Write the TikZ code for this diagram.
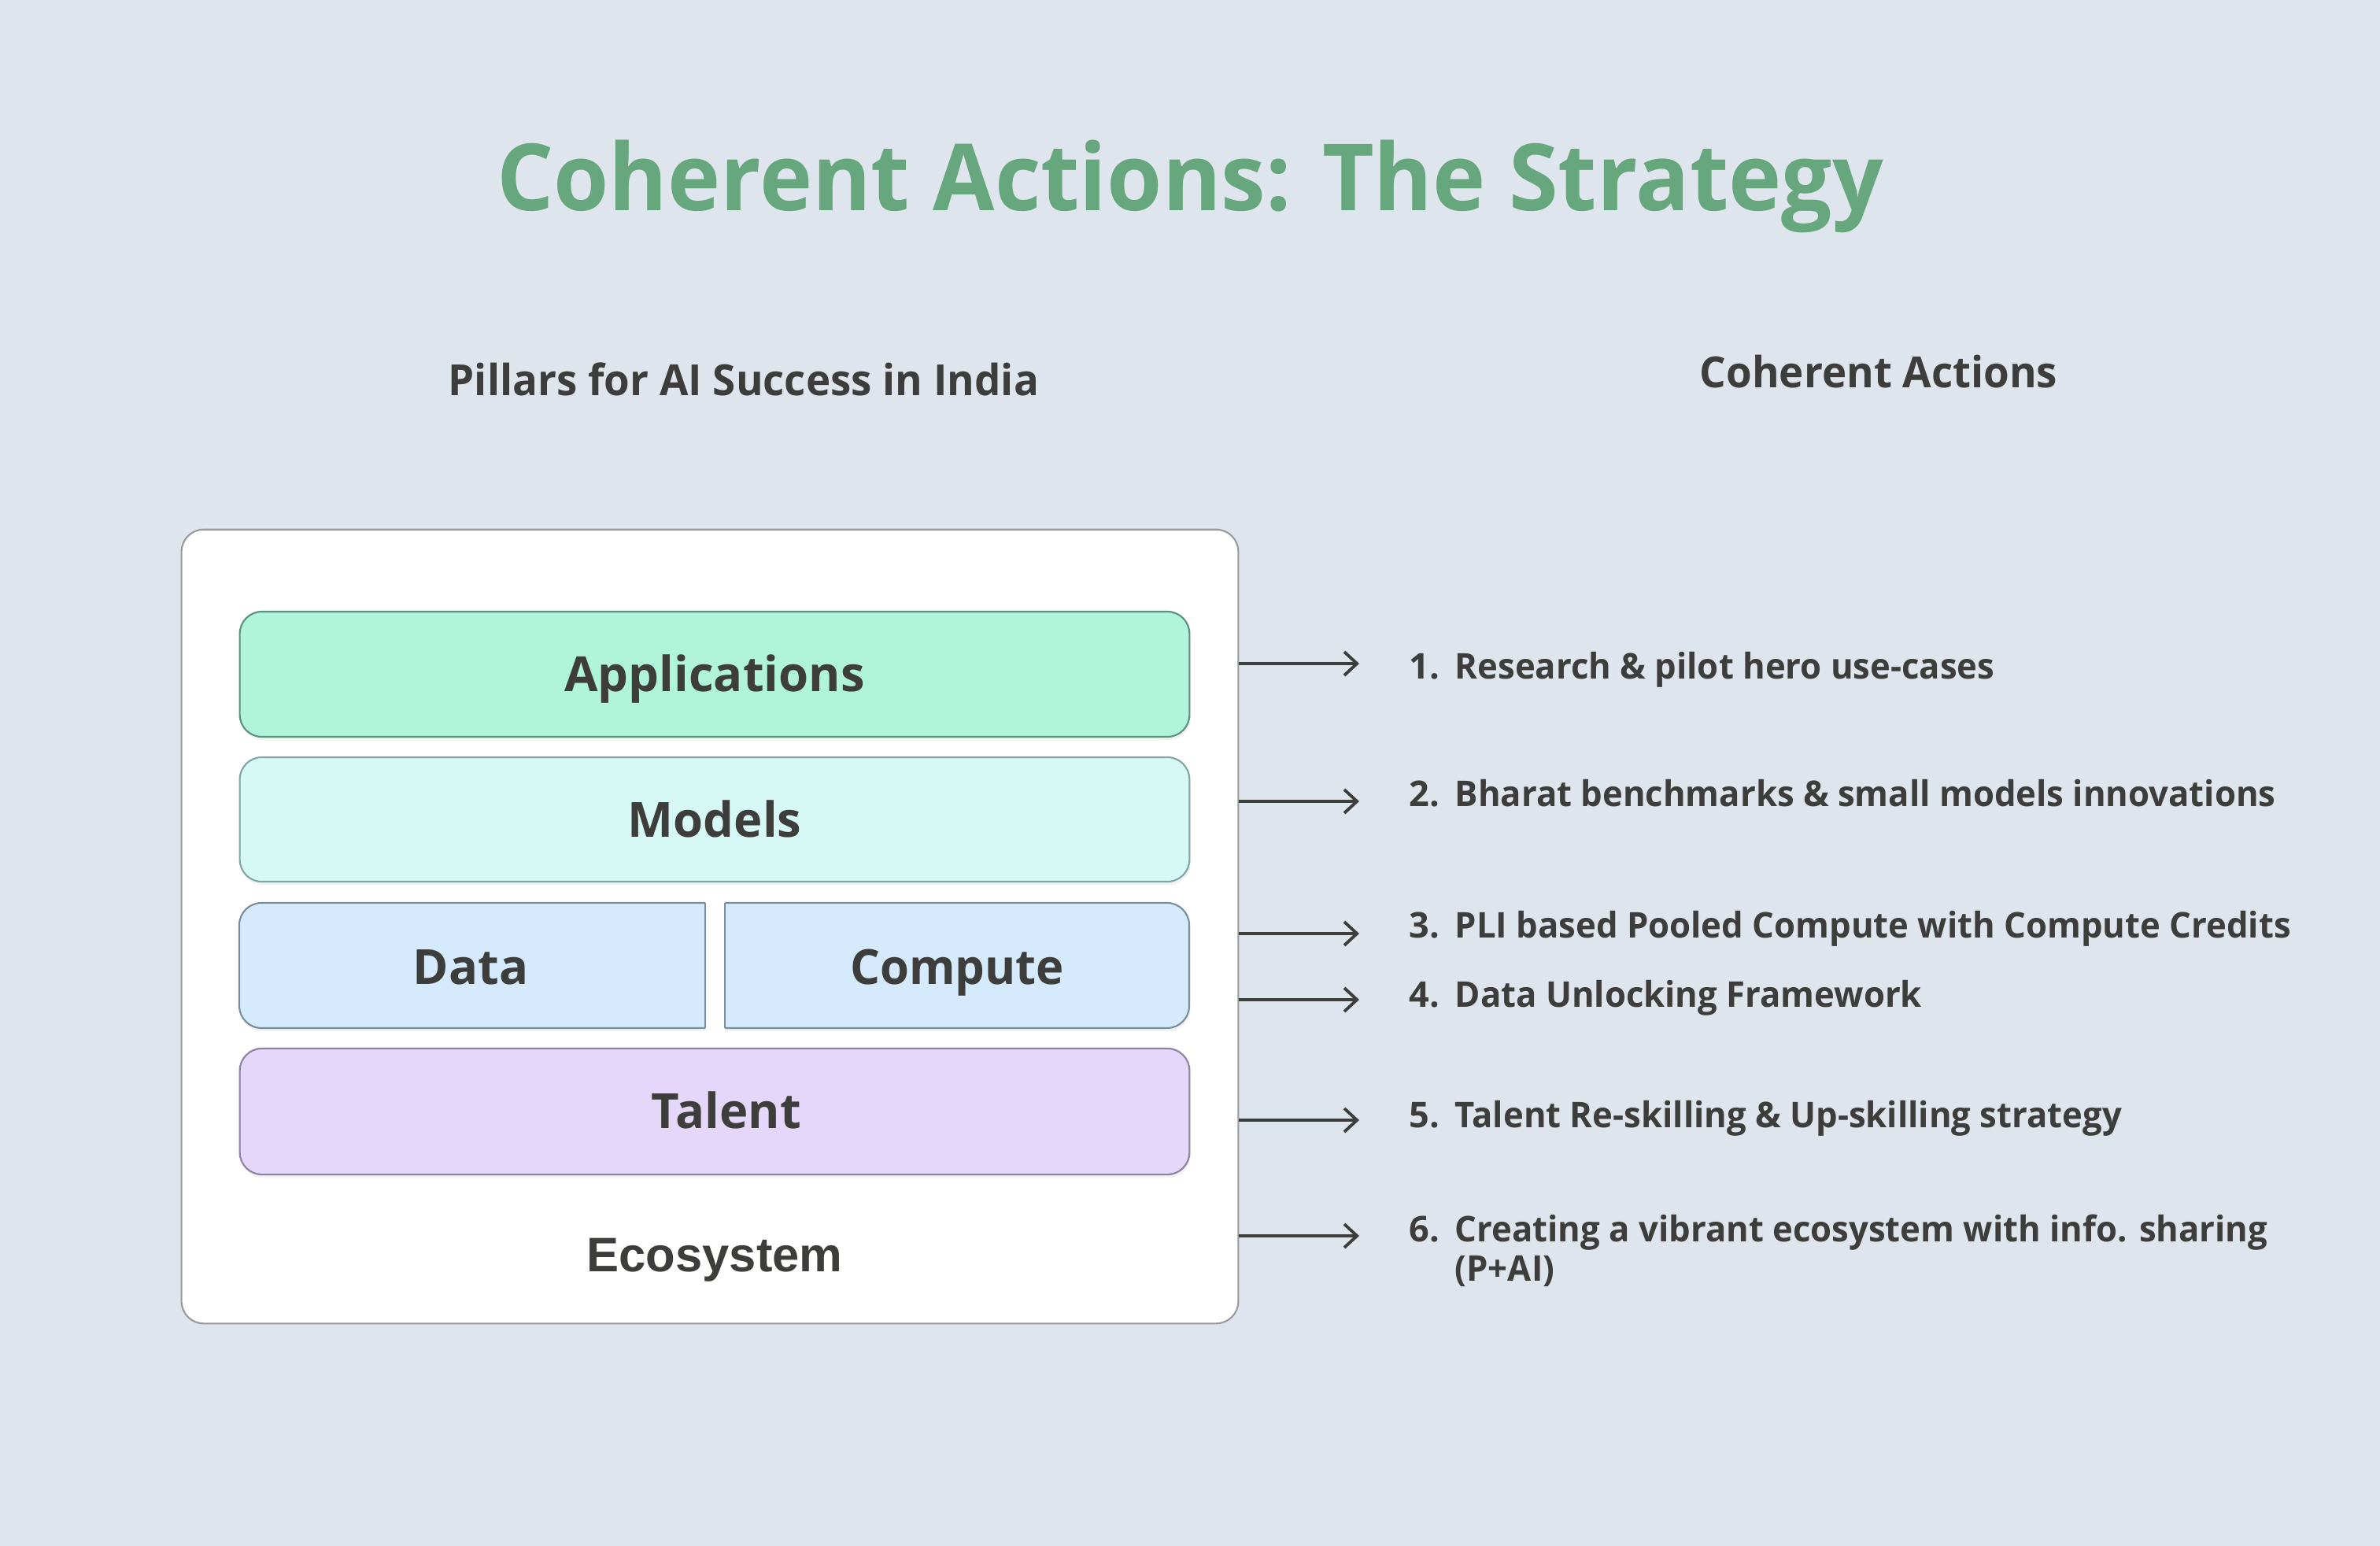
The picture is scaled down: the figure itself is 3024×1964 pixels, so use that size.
\documentclass[tikz,border=0pt]{standalone}
\usepackage{fontspec}
\setmainfont{Open Sans}
\newfontfamily\arialfont{Liberation Sans}
\usetikzlibrary{arrows.meta,shadows}
\definecolor{bg}{HTML}{DFE5EC}
\definecolor{ink}{HTML}{3D3D3B}
\definecolor{titlegreen}{HTML}{66A77E}
\definecolor{appfill}{HTML}{AFF4DB}
\definecolor{appdraw}{HTML}{5F8F7F}
\definecolor{modfill}{HTML}{D7F9F6}
\definecolor{moddraw}{HTML}{82A5A5}
\definecolor{datfill}{HTML}{D5EAFC}
\definecolor{datdraw}{HTML}{7B8C9B}
\definecolor{talfill}{HTML}{E5D7FA}
\definecolor{taldraw}{HTML}{8D82A0}
\definecolor{outdraw}{HTML}{9A9A9A}
\newcommand{\narrow}[1]{\scalebox{0.97}[1]{#1}}
\begin{document}
\begin{tikzpicture}[x=0.01cm,y=-0.01cm,
  txt/.style={text=ink,inner sep=0pt},
  boxlabel/.style={txt,anchor=base,font=\bfseries\fontsize{17.5pt}{21pt}\selectfont},
  subtitle/.style={txt,anchor=base west,font=\bfseries\fontsize{15.5pt}{19pt}\selectfont},
  act/.style={txt,anchor=base west,font=\bfseries\fontsize{12.8pt}{15pt}\selectfont},
  layer/.style={line width=0.6pt,rounded corners=8pt,
    drop shadow={opacity=0.10,shadow xshift=0.4pt,shadow yshift=-1.2pt}},
  conn/.style={draw=ink,line width=1.1pt,-{Straight Barb[length=4.6pt,width=8.5pt,line width=1.1pt]}}
]
\fill[bg] (0,0) rectangle (3024,1964);
\useasboundingbox (0,0) rectangle (3024,1964);

% title
\node[inner sep=0pt,anchor=base,text=titlegreen,font=\bfseries\fontsize{33.5pt}{40pt}\selectfont] (title) at (1512,268) {\scalebox{0.965}[1]{Coherent Actions: The Strategy}};

% column headings
\node[subtitle] (pillars) at (569,503) {\narrow{Pillars for AI Success in India}};
\node[subtitle] (cohact) at (2159,493) {\narrow{Coherent Actions}};

% outer ecosystem box
\node[draw=outdraw,fill=white,line width=0.6pt,rounded corners=8pt,minimum width=13.42cm,minimum height=10.08cm,inner sep=0pt] (eco) at (902,1177) {};

% layers
\node[layer,draw=appdraw,fill=appfill,minimum width=12.06cm,minimum height=1.59cm,inner sep=0pt] (apps) at (908,856.5) {};
\node[layer,draw=moddraw,fill=modfill,minimum width=12.06cm,minimum height=1.58cm,inner sep=0pt] (models) at (908,1041) {};
\node[layer,draw=taldraw,fill=talfill,minimum width=12.06cm,minimum height=1.60cm,inner sep=0pt] (talent) at (908,1412) {};

% data (left corners rounded) and compute (right corners rounded)
\path[layer,draw=datdraw,fill=datfill]
  (896,1147) -- (304,1147) -- (304,1306) -- (896,1306);
\draw[datdraw,line width=0.6pt] (896,1147) -- (896,1306);
\path[layer,draw=datdraw,fill=datfill]
  (921,1147) -- (1511,1147) -- (1511,1306) -- (921,1306);
\draw[datdraw,line width=0.6pt] (921,1147) -- (921,1306);

% labels
\node[boxlabel] (appsl) at (908,878) {Applications};
\node[boxlabel] (modelsl) at (908,1063) {Models};
\node[boxlabel] (datal) at (598,1250) {Data};
\node[boxlabel] (computel) at (1216,1250) {\narrow{Compute}};
\node[boxlabel] (talentl) at (923,1433) {Talent};
\node[txt,anchor=base,font=\arialfont\bfseries\fontsize{17.5pt}{21pt}\selectfont] (ecol) at (908,1615) {Ecosystem};

% actions
\node[act] (n1) at (1790,862) {1.};
\node[act] (a1) at (1848,862) {\narrow{Research \& pilot hero use-cases}};
\node[act] (n2) at (1790,1024) {2.};
\node[act] (a2) at (1848,1024) {\narrow{Bharat benchmarks \& small models innovations}};
\node[act] (n3) at (1790,1191) {3.};
\node[act] (a3) at (1848,1191) {\narrow{PLI based Pooled Compute with Compute Credits}};
\node[act] (n4) at (1790,1279) {4.};
\node[act] (a4) at (1848,1279) {\narrow{Data Unlocking Framework}};
\node[act] (n5) at (1790,1432) {5.};
\node[act] (a5) at (1848,1432) {\narrow{Talent Re-skilling \& Up-skilling strategy}};
\node[act] (n6) at (1790,1577) {6.};
\node[act] (a6) at (1848,1577) {\narrow{Creating a vibrant ecosystem with info. sharing}};
\node[act] (a6b) at (1848,1627) {\narrow{(P+AI)}};

% arrows
\coordinate (t1) at (1727,843);
\coordinate (t2) at (1727,1018);
\coordinate (t3) at (1727,1186);
\coordinate (t4) at (1727,1270);
\coordinate (t5) at (1727,1423);
\coordinate (t6) at (1727,1570);
\foreach \i in {1,...,6} {
  \draw[conn] (eco.east |- t\i) -- (t\i);
}
\end{tikzpicture}
\end{document}
